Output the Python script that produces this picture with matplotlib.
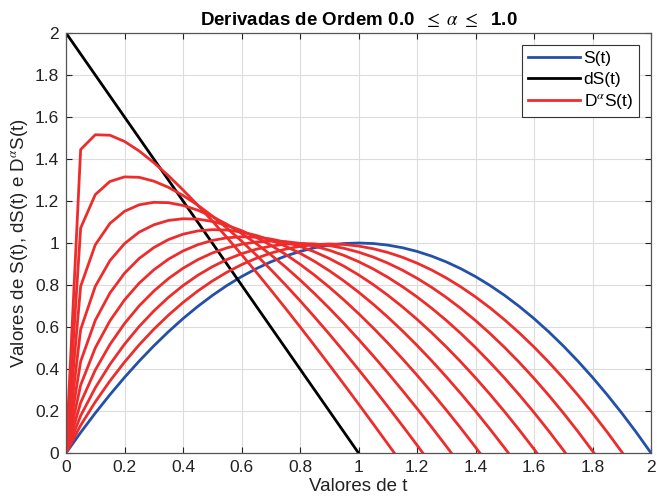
import matplotlib.pyplot as plt
from matplotlib.ticker import FuncFormatter

# valores de t (passo 0.05)
t = [0, 0.05, 0.1, 0.15, 0.2, 0.25, 0.3, 0.35, 0.4, 0.45, 0.5, 0.55, 0.6, 0.65,
     0.7, 0.75, 0.8, 0.85, 0.9, 0.95, 1.0, 1.05, 1.1, 1.15, 1.2, 1.25, 1.3, 1.35,
     1.4, 1.45, 1.5, 1.55, 1.6, 1.65, 1.7, 1.75, 1.8, 1.85, 1.9, 1.95, 2.0]

# S(t) e dS(t)
S = [0, 0.0975, 0.19, 0.2775, 0.36, 0.4375, 0.51, 0.5775, 0.64, 0.6975, 0.75,
     0.7975, 0.84, 0.8775, 0.91, 0.9375, 0.96, 0.9775, 0.99, 0.9975, 1.0, 0.9975,
     0.99, 0.9775, 0.96, 0.9375, 0.91, 0.8775, 0.84, 0.7975, 0.75, 0.6975, 0.64,
     0.5775, 0.51, 0.4375, 0.36, 0.2775, 0.19, 0.0975, 0.0]
dS = [2.0, 1.9, 1.8, 1.7, 1.6, 1.5, 1.4, 1.3, 1.2, 1.1, 1.0, 0.9, 0.8, 0.7, 0.6,
      0.5, 0.4, 0.3, 0.2, 0.1, 0.0]

# D^alpha S(t) para alpha = 0.1 ... 0.9
D01 = [0, 0.1316, 0.2432, 0.3429, 0.4330, 0.5149, 0.5891, 0.6563, 0.7168, 0.7710,
       0.8189, 0.8608, 0.8968, 0.9270, 0.9516, 0.9707, 0.9843, 0.9925, 0.9954,
       0.9931, 0.9855, 0.9728, 0.9550, 0.9321, 0.9042, 0.8714, 0.8336, 0.7908,
       0.7432, 0.6908, 0.6335, 0.5715, 0.5047, 0.4331, 0.3568, 0.2758, 0.1902,
       0.0999, 0.0049, -0.0947]
D02 = [0, 0.1775, 0.3104, 0.4218, 0.5182, 0.6024, 0.6761, 0.7409, 0.7972, 0.8458,
       0.8870, 0.9213, 0.9489, 0.9702, 0.9853, 0.9945, 0.9979, 0.9957, 0.9879,
       0.9748, 0.9565, 0.9330, 0.9044, 0.8708, 0.8323, 0.7890, 0.7409, 0.6881,
       0.6306, 0.5685, 0.5019, 0.4308, 0.3553, 0.2753, 0.1910, 0.1024, 0.0095,
       -0.0876]
D03 = [0, 0.2395, 0.3949, 0.5165, 0.6166, 0.7004, 0.7708, 0.8304, 0.8797, 0.9202,
       0.9523, 0.9768, 0.9941, 1.0047, 1.0087, 1.0066, 0.9985, 0.9848, 0.9655,
       0.9410, 0.9113, 0.8766, 0.8369, 0.7924, 0.7433, 0.6896, 0.6315, 0.5689,
       0.5020, 0.4309, 0.3556, 0.2762, 0.1928, 0.1054, 0.0140, -0.0812]
D04 = [0, 0.3232, 0.5005, 0.6291, 0.7290, 0.8087, 0.8720, 0.9229, 0.9621, 0.9917,
       1.0122, 1.0247, 1.0296, 1.0276, 1.0190, 1.0043, 0.9837, 0.9576, 0.9262,
       0.8897, 0.8483, 0.8022, 0.7514, 0.6962, 0.6367, 0.5730, 0.5053, 0.4336,
       0.3580, 0.2786, 0.1955, 0.1088, 0.0185, -0.0753]
D05 = [0, 0.4360, 0.6317, 0.7617, 0.8560, 0.9263, 0.9781, 1.0163, 1.0419, 1.0574,
       1.0636, 1.0617, 1.0523, 1.0361, 1.0136, 0.9852, 0.9513, 0.9122, 0.8681,
       0.8194, 0.7662, 0.7088, 0.6472, 0.5817, 0.5124, 0.4394, 0.3628, 0.2828,
       0.1994, 0.1127, 0.0229, -0.0700]
D06 = [0, 0.5883, 0.7935, 0.9160, 0.9971, 1.0517, 1.0865, 1.1074, 1.1155, 1.1138,
       1.1029, 1.0845, 1.0589, 1.0271, 0.9895, 0.9466, 0.8988, 0.8464, 0.7896,
       0.7288, 0.6641, 0.5958, 0.5240, 0.4489, 0.3705, 0.2891, 0.2047, 0.1175,
       0.0275, -0.0651]
D07 = [0, 0.7938, 0.9913, 1.0931, 1.1510, 1.1819, 1.1937, 1.1920, 1.1788, 1.1565,
       1.1261, 1.0890, 1.0458, 0.9973, 0.9439, 0.8861, 0.8242, 0.7585, 0.6893,
       0.6169, 0.5414, 0.4630, 0.3818, 0.2980, 0.2118, 0.1232, 0.0323, -0.0607]
D08 = [0, 1.0711, 1.2304, 1.2930, 1.3148, 1.3128, 1.2946, 1.2652, 1.2265, 1.1807,
       1.1285, 1.0712, 1.0092, 0.9433, 0.8738, 0.8011, 0.7254, 0.6471, 0.5662,
       0.4830, 0.3977, 0.3104, 0.2212, 0.1302, 0.0375, -0.0568]
D09 = [0, 1.4452, 1.5154, 1.5133, 1.4836, 1.4383, 1.3828, 1.3205, 1.2526, 1.1806,
       1.1049, 1.0264, 0.9452, 0.8619, 0.7766, 0.6896, 0.6010, 0.5110, 0.4197,
       0.3272, 0.2336, 0.1389, 0.0433, -0.0532]
derivadas = [D01, D02, D03, D04, D05, D06, D07, D08, D09]

plt.rcParams['font.family'] = ['Liberation Sans', 'DejaVu Sans']
plt.rcParams['mathtext.fontset'] = 'stix'

fig = plt.figure(figsize=(6.57, 5.04), dpi=100)
ax = fig.add_axes([0.1005, 0.1012, 0.8904, 0.8333])

azul = '#2350a8'
verm = '#ee2c2c'
l1, = ax.plot(t, S, color=azul, lw=2.0)
l2, = ax.plot(t[:len(dS)], dS, color='black', lw=2.0)
for d in derivadas:
    l3, = ax.plot(t[:len(d)], d, color=verm, lw=2.0)

ax.set_xlim(0, 2)
ax.set_ylim(0, 2)
ticks = [0, 0.2, 0.4, 0.6, 0.8, 1, 1.2, 1.4, 1.6, 1.8, 2]
ax.set_xticks(ticks)
ax.set_yticks(ticks)
fmt = FuncFormatter(lambda v, p: '%g' % round(v, 2))
ax.xaxis.set_major_formatter(fmt)
ax.yaxis.set_major_formatter(fmt)
ax.tick_params(direction='in', top=True, right=True, length=4, width=0.8,
               labelsize=12.5, colors='#222222', pad=5)
for sp in ax.spines.values():
    sp.set_color('#555555')
    sp.set_linewidth(0.9)
ax.grid(True, color='#dcdcdc', lw=0.8)
ax.set_axisbelow(True)

ax.set_title(r'Derivadas de Ordem 0.0  $\leq\ \alpha\ \leq$  1.0', fontsize=13.5,
             fontweight='bold', pad=6)
ax.set_xlabel('Valores de t', fontsize=13.5, labelpad=2, color='#222222')
ax.set_ylabel(r'Valores de S(t), dS(t) e D$^{\alpha}$S(t)', fontsize=13.5,
              labelpad=3, color='#222222')

leg = ax.legend([l1, l2, l3], ['S(t)', 'dS(t)', r'D$^{\alpha}$S(t)'],
                loc='upper right', fontsize=12.5, fancybox=False,
                framealpha=1, edgecolor='#333333', handlelength=3.0,
                borderaxespad=0.7, labelspacing=0.3, handletextpad=0.2,
                borderpad=0.35)
leg.get_frame().set_linewidth(0.8)

fig.savefig('out.png', dpi=100)
